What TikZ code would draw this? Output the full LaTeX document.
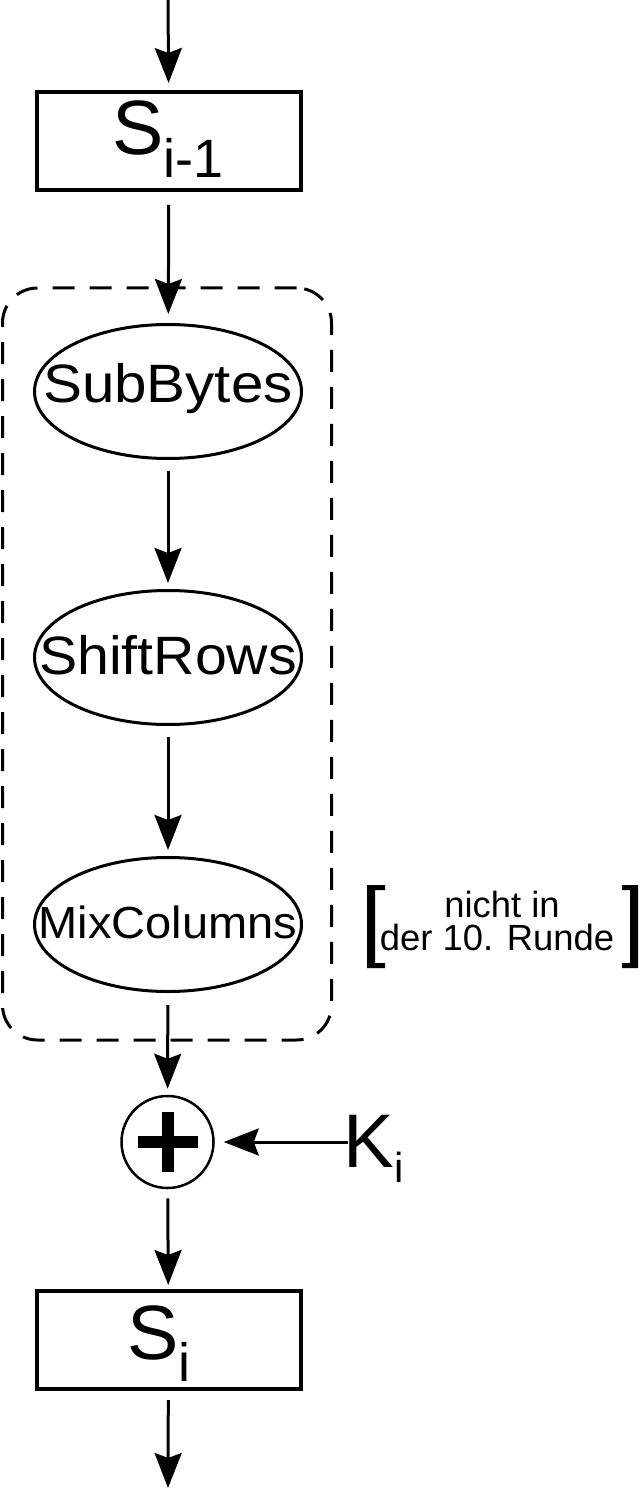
\documentclass[tikz,border=0pt]{standalone}
\usepackage{fontspec}
\setmainfont{Liberation Sans}
\usetikzlibrary{arrows.meta,shapes.geometric}
\begin{document}
\begin{tikzpicture}[x=0.5pt,y=-0.5pt,
  arr/.style={-{Stealth[length=17.5pt,width=13.5pt,inset=2.5pt]}, line width=1.5pt, shorten <=5pt, shorten >=3pt},
  stbox/.style={draw, line width=2pt, minimum width=132pt, minimum height=49pt, inner sep=0pt},
  oval/.style={draw, ellipse, line width=1.5pt, minimum width=133.5pt, minimum height=67pt, inner sep=0pt},
  ovaltxt/.style={inner sep=0pt, font=\fontsize{27}{30}\selectfont},
  bigtxt/.style={inner sep=0pt, anchor=base, font=\fontsize{38.5}{42}\selectfont},
  notetxt/.style={inner sep=0pt, anchor=base, font=\fontsize{18.2}{20}\selectfont}
]
\useasboundingbox (0,0) rectangle (639,1491);

% dashed group
\node[draw, line width=1.5pt, dash pattern=on 11pt off 7.5pt, rounded corners=17.5pt,
      minimum width=164.5pt, minimum height=376pt, inner sep=0pt] (grp) at (167,664) {};

% state boxes
\node[stbox] (sprev) at (169,141) {};
\node[bigtxt] (sprevtxt) at (168,155) {S\raisebox{-11.5pt}{\fontsize{27}{30}\selectfont i-1}};
\node[stbox] (si) at (168.5,1340) {};
\node[bigtxt] (sitxt) at (159,1359) {S\raisebox{-11pt}{\fontsize{27}{30}\selectfont i}};

% operations
\node[oval] (sub) at (168,391.5) {};
\node[ovaltxt] (subtxt) at (168,389) {\scalebox{1.08}[1]{SubBytes}};
\node[oval] (shift) at (168,657.5) {};
\node[ovaltxt] (shifttxt) at (168,655) {\scalebox{1.06}[1]{ShiftRows}};
\node[oval] (mix) at (168,924.5) {};
\node[ovaltxt, font=\fontsize{22.5}{26}\selectfont] (mixtxt) at (168,922) {\scalebox{1.045}[1]{MixColumns}};

% xor
\node[circle, draw, line width=1.25pt, minimum size=46pt, inner sep=0pt] (xor) at (167.5,1142) {};
\draw[line width=6pt] ([xshift=-15pt]xor.center) -- ([xshift=15pt]xor.center);
\draw[line width=6pt] ([yshift=-15pt]xor.center) -- ([yshift=15pt]xor.center);

% key
\node[inner sep=0pt, anchor=base west, font=\fontsize{38}{42}\selectfont] (key) at (343,1167) {K\raisebox{-7.5pt}{\fontsize{21}{24}\selectfont i}};
\coordinate (keyend) at (348,1142);

% note with brackets
\node[notetxt] (note1) at (502,917) {nicht in};
\node[notetxt] (note2) at (497,950) {der 10. Runde};
\fill (385,885) -- (367,885) -- (367,968) -- (385,968) -- (385,963) -- (375,963) -- (375,890) -- (385,890) -- cycle;
\fill (622,885) -- (638,885) -- (638,968) -- (622,968) -- (622,963) -- (630,963) -- (630,890) -- (622,890) -- cycle;

% connectors
\coordinate (top) at (168,0);
\coordinate (bottom) at (168,1488);
\draw[arr, shorten <=0pt, shorten >=3.5pt] (top) -- (sprev);
\draw[arr, shorten <=6.5pt, shorten >=4.5pt] (sprev) -- (sub);
\draw[arr, shorten <=5.5pt, shorten >=3pt] (sub) -- (shift);
\draw[arr, shorten <=5.5pt, shorten >=3pt] (shift) -- (mix);
\draw[arr, shorten <=6pt, shorten >=3pt] (mix) -- (xor);
\draw[arr, shorten <=0pt, shorten >=4.5pt] (keyend) -- (xor);
\draw[arr, shorten <=4.5pt, shorten >=2pt] (xor) -- (si);
\draw[arr, shorten <=4.5pt, shorten >=0pt] (si) -- (bottom);
\end{tikzpicture}
\end{document}
